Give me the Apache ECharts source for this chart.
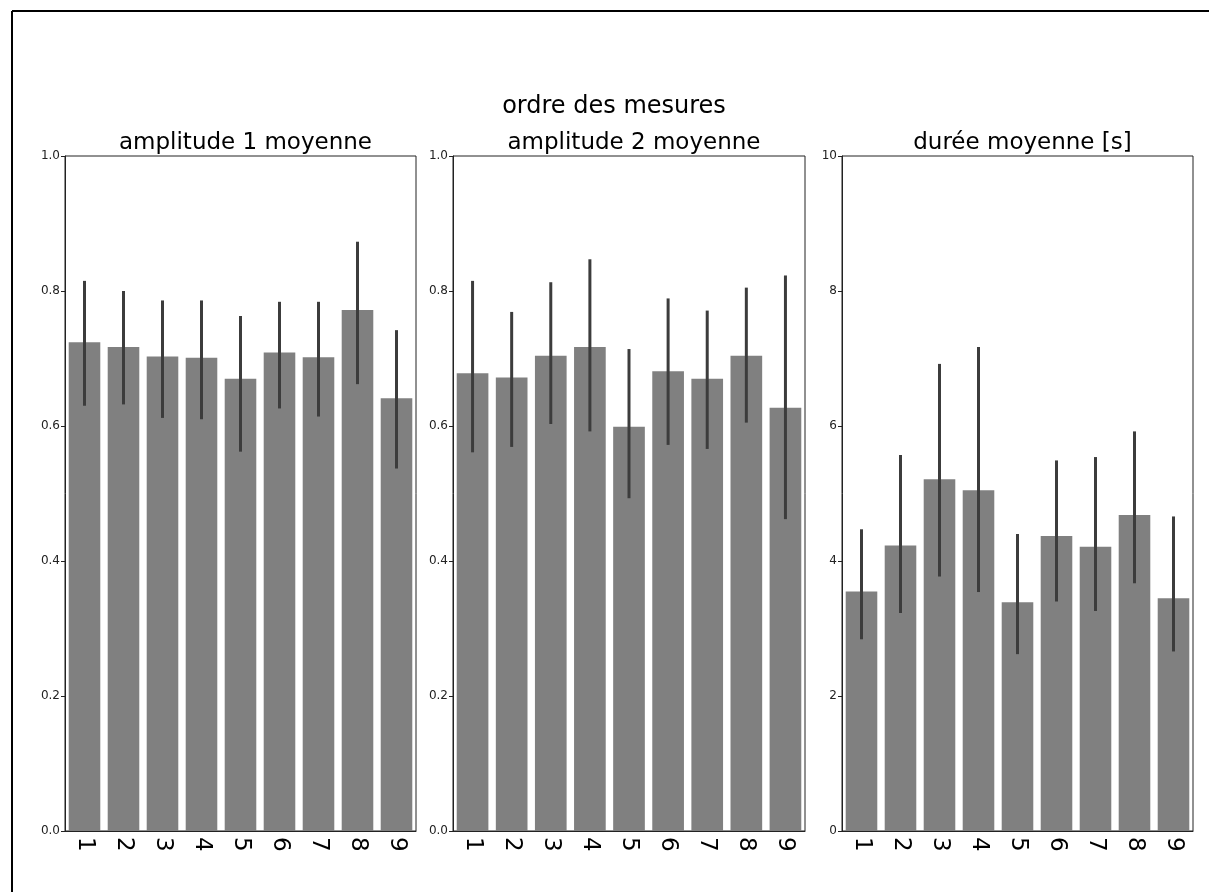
<!DOCTYPE html>
<html>
<head>
<meta charset="utf-8">
<script src="https://cdn.jsdelivr.net/npm/echarts@6/dist/echarts.min.js"></script>
<style>
  html, body { margin: 0; padding: 0; background: #fff; }
  #chart { width: 1209px; height: 892px; }
</style>
</head>
<body>
<div id="chart"></div>
<script>
const categories = ['1', '2', '3', '4', '5', '6', '7', '8', '9'];

const amp1Mean = [0.724, 0.717, 0.703, 0.701, 0.670, 0.709, 0.702, 0.772, 0.641];
const amp1Low  = [0.630, 0.632, 0.612, 0.610, 0.562, 0.626, 0.614, 0.662, 0.537];
const amp1High = [0.815, 0.800, 0.786, 0.786, 0.763, 0.784, 0.784, 0.873, 0.742];

const amp2Mean = [0.678, 0.672, 0.704, 0.717, 0.599, 0.681, 0.670, 0.704, 0.627];
const amp2Low  = [0.561, 0.569, 0.603, 0.592, 0.493, 0.572, 0.566, 0.605, 0.462];
const amp2High = [0.815, 0.769, 0.813, 0.847, 0.714, 0.789, 0.771, 0.805, 0.823];

const durMean = [3.55, 4.23, 5.21, 5.05, 3.39, 4.37, 4.21, 4.68, 3.45];
const durLow  = [2.84, 3.23, 3.77, 3.54, 2.62, 3.40, 3.26, 3.67, 2.66];
const durHigh = [4.47, 5.57, 6.92, 7.17, 4.40, 5.49, 5.54, 5.92, 4.66];

const panelTitles = ['amplitude 1 moyenne', 'amplitude 2 moyenne', 'durée moyenne [s]'];
const yMax = [1, 1, 10];
const yStep = [0.2, 0.2, 2];

const font = 'DejaVu Sans';
const grids = [
  {left: 65, top: 156, width: 351, height: 675},
  {left: 453, top: 156, width: 352, height: 675},
  {left: 842, top: 156, width: 351, height: 675}
];

const means = [amp1Mean, amp2Mean, durMean];
const lows = [amp1Low, amp2Low, durLow];
const highs = [amp1High, amp2High, durHigh];

function errItem(params, api) {
  var i = api.value(0);
  var lo = api.coord([i, api.value(1)]);
  var hi = api.coord([i, api.value(2)]);
  return {
    type: 'line',
    shape: {x1: lo[0], y1: lo[1], x2: hi[0], y2: hi[1]},
    style: {stroke: '#3c3c3c', lineWidth: 3}
  };
}

var dom = document.getElementById('chart');
var myChart = echarts.init(dom, null, {renderer: 'canvas'});

var titles = [{
  text: 'ordre des mesures',
  left: 609,
  top: 90,
  textAlign: 'center',
  textStyle: {fontFamily: font, fontSize: 24, fontWeight: 'normal', color: '#000'}
}];
var xAxes = [], yAxes = [], series = [];

grids.forEach(function (g, k) {
  g.show = true;
  g.borderColor = '#222';
  g.borderWidth = 1;
  titles.push({
    text: panelTitles[k],
    left: g.left + g.width / 2,
    top: 127,
    textAlign: 'center',
    textStyle: {fontFamily: font, fontSize: 23, fontWeight: 'normal', color: '#000'}
  });
  xAxes.push({
    type: 'category',
    gridIndex: k,
    data: categories,
    axisLine: {lineStyle: {color: '#222', width: 1}},
    axisTick: {alignWithLabel: true, length: 4, lineStyle: {color: '#222'}},
    axisLabel: {rotate: -90, fontFamily: font, fontSize: 23, color: '#000', margin: 6}
  });
  yAxes.push({
    type: 'value',
    gridIndex: k,
    min: 0,
    max: yMax[k],
    interval: yStep[k],
    axisLine: {show: true, lineStyle: {color: '#222', width: 1}},
    axisTick: {show: true, length: 4, lineStyle: {color: '#222'}},
    splitLine: {show: false},
    axisLabel: {
      fontFamily: font, fontSize: 12, color: '#222', margin: 5,
      formatter: function (v) { return yMax[k] === 1 ? v.toFixed(1) : String(v); }
    }
  });
  series.push({
    type: 'bar',
    xAxisIndex: k,
    yAxisIndex: k,
    data: means[k],
    barCategoryGap: '19%',
    itemStyle: {color: '#808080'},
    silent: true
  });
  series.push({
    type: 'custom',
    xAxisIndex: k,
    yAxisIndex: k,
    renderItem: errItem,
    encode: {x: 0, y: [1, 2]},
    data: categories.map(function (c, i) { return [i, lows[k][i], highs[k][i]]; }),
    z: 5,
    silent: true
  });
});

var option = {
  backgroundColor: '#fff',
  animation: false,
  title: titles,
  grid: grids,
  xAxis: xAxes,
  yAxis: yAxes,
  series: series,
  graphic: [
    {type: 'line', shape: {x1: 12, y1: 11, x2: 1209, y2: 11}, style: {stroke: '#000', lineWidth: 2}},
    {type: 'line', shape: {x1: 12, y1: 11, x2: 12, y2: 892}, style: {stroke: '#000', lineWidth: 2}}
  ]
};

if (option && typeof option === 'object') {
  myChart.setOption(option);
}

window.addEventListener('resize', myChart.resize);
</script>
</body>
</html>
